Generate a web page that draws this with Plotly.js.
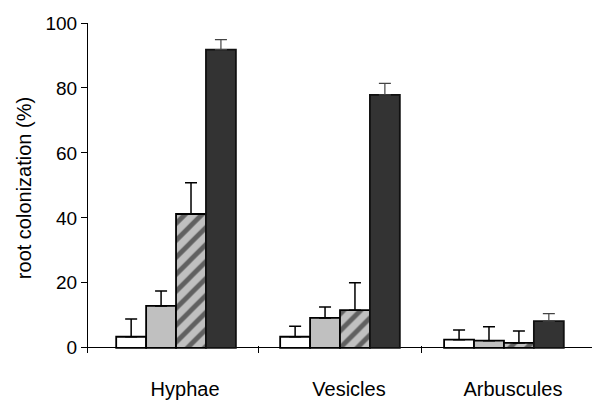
<!DOCTYPE html>
<html>
<head>
<meta charset="utf-8">
<script src="https://cdn.plot.ly/plotly-3.0.1.min.js"></script>
<style>html,body{margin:0;padding:0;background:#fff;}#chart{width:592px;height:402px;}</style>
</head>
<body>
<div id="chart"></div>
<script>
var categories = ['Hyphae', 'Vesicles', 'Arbuscules'];
var catPos = [0, 1, 2];
var seriesNames = ['Treatment 1', 'Treatment 2', 'Treatment 3', 'Treatment 4'];
var valuesT1 = [3.4, 3.4, 2.5];
var valuesT2 = [12.9, 9.2, 2.2];
var valuesT3 = [41.2, 11.6, 1.5];
var valuesT4 = [91.8, 77.9, 8.2];
var errT1 = [5.5, 3.2, 3.0];
var errT2 = [4.6, 3.4, 4.3];
var errT3 = [9.6, 8.4, 3.7];
var errT4 = [3.1, 3.5, 2.3];
var yTicks = [0, 20, 40, 60, 80, 100];

function barTrace(name, vals, errs, color, lineColor, pattern, errColor, errThick) {
  var t = {
    type: 'bar', name: name, x: catPos, y: vals,
    marker: {color: color, line: {color: lineColor, width: 1.8}},
    error_y: {type: 'data', symmetric: false, array: errs, arrayminus: vals.map(function(){return 0;}),
              color: errColor, thickness: errThick, width: 6},
    hoverinfo: 'skip'
  };
  if (pattern) t.marker.pattern = pattern;
  return t;
}

var data = [
  barTrace(seriesNames[0], valuesT1, errT1, '#ffffff', '#000000', null, '#000000', 1.5),
  barTrace(seriesNames[1], valuesT2, errT2, '#c0c0c0', '#000000', null, '#000000', 1.5),
  barTrace(seriesNames[2], valuesT3, errT3, '#c0c0c0', '#000000',
           {shape: '/', bgcolor: '#c0c0c0', fgcolor: '#000000', size: 12, solidity: 0.4, fillmode: 'overlay'},
           '#000000', 1.5),
  barTrace(seriesNames[3], valuesT4, errT4, '#333333', '#111111', null, '#444444', 1.2)
];

var layout = {
  width: 592, height: 402,
  margin: {l: 88, r: 0, t: 23, b: 49},
  paper_bgcolor: '#ffffff', plot_bgcolor: '#ffffff',
  showlegend: false,
  barmode: 'group', bargap: 0.27, bargroupgap: 0,
  font: {family: 'Liberation Sans, Arial, sans-serif', color: '#000000', size: 20},
  xaxis: {
    range: [-0.537, 2.537],
    tickmode: 'array', tickvals: catPos, ticktext: categories,
    ticks: '', showgrid: false, zeroline: false, showline: false,
    tickfont: {size: 20, color: '#000000'},
    ticklabelstandoff: 22, ticklabelshift: 9,
    minor: {tickvals: [0.5, 1.5], ticks: 'inside', ticklen: 7, tickwidth: 1, tickcolor: '#000000', showgrid: false}
  },
  yaxis: {
    range: [-1.6, 100],
    tickmode: 'array', tickvals: yTicks,
    ticks: 'outside', ticklen: 6, tickwidth: 1, tickcolor: '#000000',
    showline: true, linecolor: '#000000', linewidth: 1,
    showgrid: false, zeroline: true, zerolinecolor: '#000000', zerolinewidth: 1,
    tickfont: {size: 19, color: '#000000'},
    title: {text: 'root colonization (%)', font: {size: 20, color: '#000000'}, standoff: 8}
  }
};

Plotly.newPlot('chart', data, layout, {staticPlot: true, displayModeBar: false});
</script>
</body>
</html>
